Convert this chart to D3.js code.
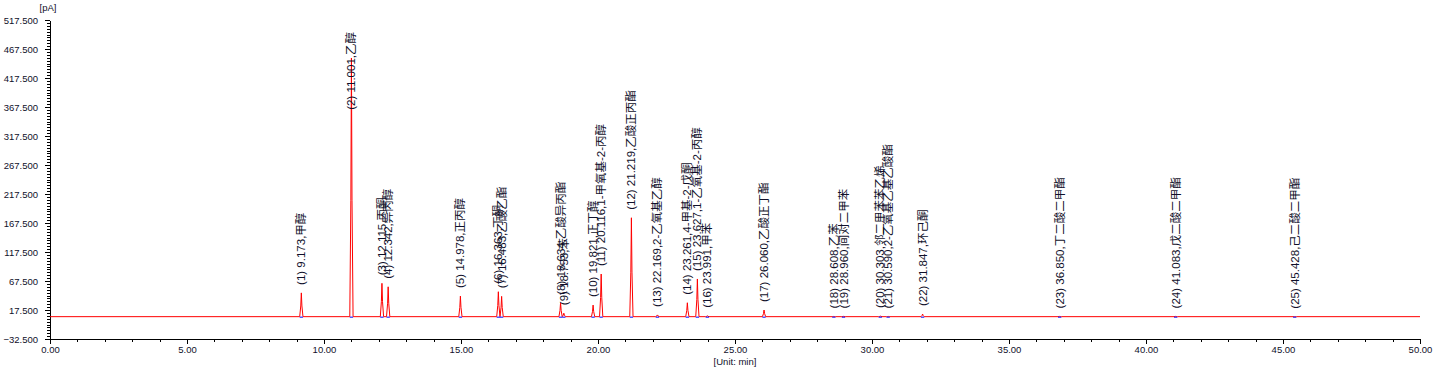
<!DOCTYPE html>
<html>
<head>
<meta charset="utf-8">
<script src="https://cdn.jsdelivr.net/npm/d3@7"></script>
<style>
  body { margin: 0; background: #fff; }
  svg { display: block; }
  .tick text { font-family: "Liberation Sans", Arial, sans-serif; font-size: 9.5px; fill: #10102a; }
  .axis path, .axis line { stroke: #000; shape-rendering: crispEdges; }
  .peak-label { font-family: "Liberation Sans", Arial, "Noto Sans CJK SC", sans-serif; font-size: 11.5px; fill: #10102a; }
</style>
</head>
<body>
<div id="chart"></div>
<script>
// peak table
const peakNo = [1, 2, 3, 4, 5, 6, 7, 8, 9, 10, 11, 12, 13, 14, 15, 16, 17, 18, 19, 20, 21, 22, 23, 24, 25];
const retTime = [9.173, 11.001, 12.115, 12.342, 14.978, 16.363, 16.483, 18.634, 18.753, 19.821,
                 20.116, 21.219, 22.169, 23.261, 23.627, 23.991, 26.060, 28.608, 28.960, 30.303,
                 30.590, 31.847, 36.850, 41.083, 45.428];
const peakName = ["甲醇", "乙醇", "丙酮", "异丙醇", "正丙醇", "丁酮", "乙酸乙酯", "乙酸异丙酯", "苯", "正丁醇",
                  "1-甲氧基-2-丙醇", "乙酸正丙酯", "2-乙氧基乙醇", "4-甲基-2-戊酮", "1-乙氧基-2-丙醇", "甲苯", "乙酸正丁酯", "乙苯", "间对二甲苯", "邻二甲苯苯乙烯",
                  "2-乙氧基乙基乙酸酯", "环己酮", "丁二酸二甲酯", "戊二酸二甲酯", "己二酸二甲酯"];
const peakHeight = [47, 452, 63.5, 57.5, 41.5, 49, 41, 30, 12, 26,
                    79.5, 176.5, 9, 30, 71, 7.5, 17.5, 6.5, 6.5, 7,
                    6.5, 10.5, 6.5, 6.5, 6];
const baselineValue = 6;
const yTickValues = [-32.5, 17.5, 67.5, 117.5, 167.5, 217.5, 267.5, 317.5, 367.5, 417.5, 467.5, 517.5];
const xTickValues = [0, 5, 10, 15, 20, 25, 30, 35, 40, 45, 50];

const width = 1434, height = 373;
const margin = { top: 20, right: 14, bottom: 34, left: 50 };
const peakHalfWidth = 0.06; // minutes

const svg = d3.select("#chart").append("svg")
    .attr("width", width)
    .attr("height", height);

const x = d3.scaleLinear().domain([0, 50]).range([margin.left, width - margin.right]);
const y = d3.scaleLinear().domain([-32.5, 517.5]).range([height - margin.bottom, margin.top]);

// minor ticks first, then the main axes on top
svg.append("g")
    .attr("class", "axis")
    .attr("transform", `translate(${margin.left},0)`)
    .call(d3.axisLeft(y).tickValues(d3.range(-32.5, 517.6, 5)).tickSize(3).tickFormat("").tickSizeOuter(0));

svg.append("g")
    .attr("class", "axis")
    .attr("transform", `translate(${margin.left},0)`)
    .call(d3.axisLeft(y).tickValues(yTickValues).tickSize(5).tickPadding(7).tickSizeOuter(0)
        .tickFormat(d3.format(".3f")));

svg.append("g")
    .attr("class", "axis")
    .attr("transform", `translate(0,${height - margin.bottom})`)
    .call(d3.axisBottom(x).tickValues(d3.range(0, 50.1, 1)).tickSize(3).tickFormat("").tickSizeOuter(0));

svg.append("g")
    .attr("class", "axis")
    .attr("transform", `translate(0,${height - margin.bottom})`)
    .call(d3.axisBottom(x).tickValues(xTickValues).tickSize(5).tickPadding(2).tickSizeOuter(0)
        .tickFormat(d3.format(".2f")));

// unit labels
svg.append("text")
    .attr("x", 48).attr("y", 11)
    .attr("text-anchor", "middle")
    .style("font-family", "Liberation Sans, Arial, sans-serif")
    .style("font-size", "9.5px")
    .style("fill", "#10102a")
    .text("[pA]");

svg.append("text")
    .attr("x", x(25)).attr("y", 365)
    .attr("text-anchor", "middle")
    .style("font-family", "Liberation Sans, Arial, sans-serif")
    .style("font-size", "9.5px")
    .style("fill", "#10102a")
    .text("[Unit: min]");

// build the trace: flat baseline with a narrow spike at every peak
const trace = [[0, baselineValue]];
retTime.forEach((t, i) => {
    const h = peakHeight[i];
    trace.push([t - peakHalfWidth, baselineValue]);
    trace.push([t - peakHalfWidth * 0.35, baselineValue + (h - baselineValue) * 0.45]);
    trace.push([t, h]);
    trace.push([t + peakHalfWidth * 0.35, baselineValue + (h - baselineValue) * 0.45]);
    trace.push([t + peakHalfWidth, baselineValue]);
});
trace.push([50, baselineValue]);

const line = d3.line().x(d => x(d[0])).y(d => y(d[1]));

svg.append("path")
    .datum(trace)
    .attr("fill", "none")
    .attr("stroke", "#ff0000")
    .attr("stroke-width", 1)
    .attr("d", line);

// blue integration markers at peak start / end
const marks = svg.append("g");
retTime.forEach(t => {
    marks.append("line")
        .attr("x1", x(t - peakHalfWidth)).attr("x2", x(t + peakHalfWidth))
        .attr("y1", y(baselineValue) + 0.5).attr("y2", y(baselineValue) + 0.5)
        .attr("stroke", "#0000ff")
        .attr("stroke-width", 1);
});

// rotated peak labels
const labels = svg.append("g");
retTime.forEach((t, i) => {
    const txt = labels.append("text")
        .attr("class", "peak-label")
        .attr("dy", "0.35em")
        .text(`(${peakNo[i]}) ${t.toFixed(3)},${peakName[i]}`);
    const len = txt.node().getComputedTextLength();
    let bottom = y(peakHeight[i]) - 8;
    if (bottom - len < margin.top + 12) bottom = margin.top + 12 + len;
    txt.attr("transform", `translate(${x(t)},${bottom}) rotate(-90)`);
});
</script>
</body>
</html>
